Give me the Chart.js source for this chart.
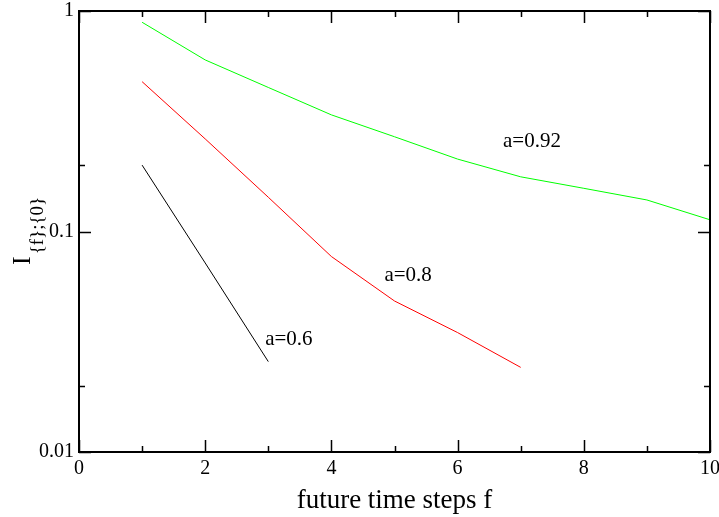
<!DOCTYPE html>
<html>
<head>
<meta charset="utf-8">
<script src="https://cdn.jsdelivr.net/npm/chart.js@4/dist/chart.umd.min.js"></script>
<style>
  body { margin: 0; background: #fff; }
  #wrap { width: 719px; height: 517px; }
</style>
</head>
<body>
<div id="wrap"><canvas id="infoChart" width="719" height="517"></canvas></div>
<script>
const STEPS = [1, 2, 3, 4, 5, 6, 7, 8, 9, 10];
const A06 = [0.2, 0.072, 0.0257];
const A08 = [0.478, 0.263, 0.143, 0.077, 0.0484, 0.0348, 0.0242];
const A092 = [0.889, 0.600, 0.450, 0.338, 0.269, 0.213, 0.177, 0.157, 0.139, 0.113];
const Y_TICKS = [0.01, 0.02, 0.1, 0.2, 1];
const X_TICKS = [0, 1, 2, 3, 4, 5, 6, 7, 8, 9, 10];

// where each curve's name is written, in data units
const NAMES = [
  { text: 'a=0.6', x: 2.95, y: 0.0324 },
  { text: 'a=0.8', x: 4.84, y: 0.0635 },
  { text: 'a=0.92', x: 6.72, y: 0.255 }
];

const SERIF = '"Liberation Serif", "DejaVu Serif", serif';

function toPoints(values){
  return values.map((v, i) => ({ x: STEPS[i], y: v }));
}

// frame, inward ticks on all four sides, curve names and axis titles
const gracePlot = {
  id: 'gracePlot',
  afterDraw(chart){
    const ctx = chart.ctx;
    const a = chart.chartArea;
    const xs = chart.scales.x;
    const ys = chart.scales.y;
    ctx.save();
    ctx.strokeStyle = '#000';
    ctx.lineWidth = 2;
    ctx.strokeRect(a.left, a.top, a.right - a.left, a.bottom - a.top);

    ctx.lineWidth = 1.5;
    ctx.beginPath();
    X_TICKS.forEach(v => {
      const px = Math.round(xs.getPixelForValue(v)) + 0.5;
      const len = v % 2 === 0 ? 12 : 6;
      ctx.moveTo(px, a.bottom); ctx.lineTo(px, a.bottom - len);
      ctx.moveTo(px, a.top); ctx.lineTo(px, a.top + len);
    });
    Y_TICKS.forEach(v => {
      const py = Math.round(ys.getPixelForValue(v)) + 0.5;
      const major = Math.abs(Math.log10(v) % 1) < 1e-9;
      const len = major ? 12 : 6;
      ctx.moveTo(a.left, py); ctx.lineTo(a.left + len, py);
      ctx.moveTo(a.right, py); ctx.lineTo(a.right - len, py);
    });
    ctx.stroke();

    ctx.fillStyle = '#000';
    ctx.font = '21px ' + SERIF;
    ctx.textAlign = 'left';
    ctx.textBaseline = 'middle';
    NAMES.forEach(n => {
      ctx.fillText(n.text, xs.getPixelForValue(n.x), ys.getPixelForValue(n.y));
    });

    ctx.font = '27px ' + SERIF;
    ctx.textAlign = 'center';
    ctx.fillText('future time steps f', (a.left + a.right) / 2, 501);

    ctx.translate(30, 265);
    ctx.rotate(-Math.PI / 2);
    ctx.textAlign = 'left';
    ctx.textBaseline = 'alphabetic';
    ctx.font = '26px ' + SERIF;
    ctx.fillText('I', 0, 0);
    const w = ctx.measureText('I').width;
    ctx.font = '19px ' + SERIF;
    ctx.fillText('{f};{0}', w + 2, 13);
    ctx.restore();
  }
};

const lineStyle = { borderWidth: 1, pointRadius: 0, tension: 0, fill: false };

new Chart(document.getElementById('infoChart').getContext('2d'), {
  type: 'line',
  data: {
    datasets: [
      Object.assign({ label: 'a=0.6', data: toPoints(A06), borderColor: '#000000' }, lineStyle),
      Object.assign({ label: 'a=0.8', data: toPoints(A08), borderColor: '#ff0000' }, lineStyle),
      Object.assign({ label: 'a=0.92', data: toPoints(A092), borderColor: '#00ff00' }, lineStyle)
    ]
  },
  options: {
    responsive: false,
    animation: false,
    events: [],
    layout: { padding: { top: 11, right: 9, left: 0, bottom: 0 } },
    plugins: { legend: { display: false }, tooltip: { enabled: false } },
    scales: {
      x: {
        type: 'linear',
        min: 0,
        max: 10,
        grid: { display: false, drawTicks: false },
        border: { display: false },
        afterBuildTicks: s => { s.ticks = X_TICKS.map(v => ({ value: v })); },
        ticks: {
          autoSkip: false,
          maxRotation: 0,
          padding: 5,
          color: '#000',
          font: { family: SERIF, size: 20 },
          callback: v => (v % 2 === 0 ? String(v) : '')
        },
        afterFit: s => { s.height = 65; s.paddingLeft = 0; s.paddingRight = 0; }
      },
      y: {
        type: 'logarithmic',
        min: 0.01,
        max: 1,
        grid: { display: false, drawTicks: false },
        border: { display: false },
        afterBuildTicks: s => { s.ticks = Y_TICKS.map(v => ({ value: v })); },
        ticks: {
          autoSkip: false,
          padding: 5,
          color: '#000',
          font: { family: SERIF, size: 20 },
          callback: v => ([0.01, 0.1, 1].includes(v) ? String(v) : '')
        },
        afterFit: s => { s.width = 79; s.paddingTop = 0; s.paddingBottom = 0; }
      }
    }
  },
  plugins: [gracePlot]
});
</script>
</body>
</html>
